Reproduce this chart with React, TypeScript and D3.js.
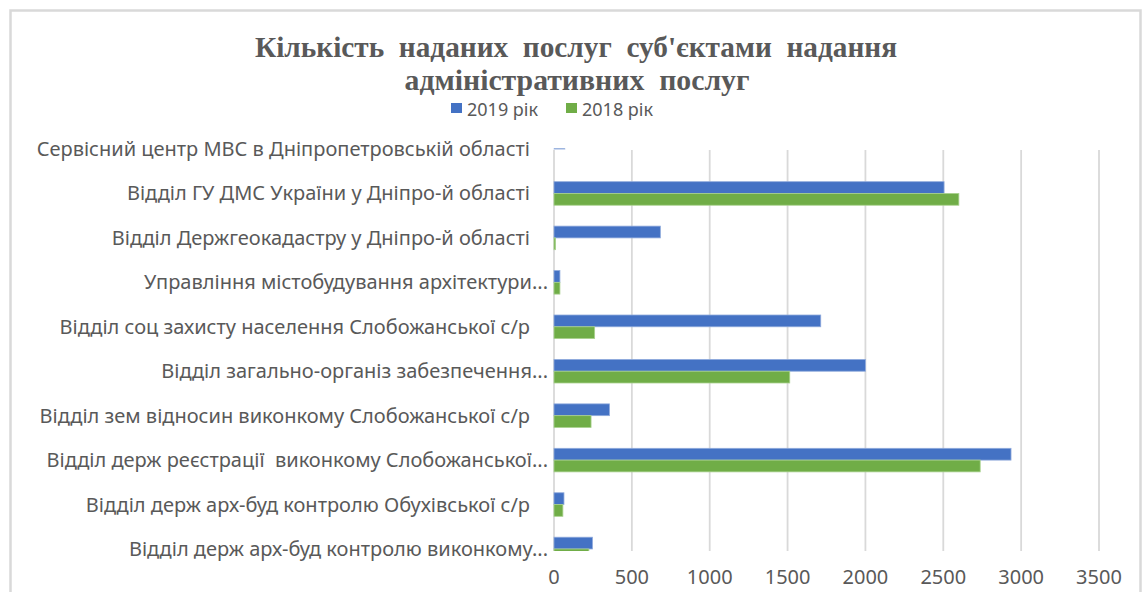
import React from "react";
import * as d3 from "d3";

const categories = [
  "Сервісний центр МВС в Дніпропетровській області",
  "Відділ ГУ ДМС України у Дніпро-й області",
  "Відділ Держгеокадастру у Дніпро-й області",
  "Управління містобудування архітектури...",
  "Відділ соц захисту населення Слобожанської с/р",
  "Відділ загально-організ забезпечення...",
  "Відділ зем відносин виконкому Слобожанської с/р",
  "Відділ держ реєстрації  виконкому Слобожанської...",
  "Відділ держ арх-буд контролю Обухівської с/р",
  "Відділ держ арх-буд контролю виконкому...",
];
const values2019 = [70, 2505, 683, 38, 1713, 2000, 356, 2935, 64, 247];
const values2018 = [0, 2600, 10, 38, 261, 1514, 238, 2737, 57, 224];
const seriesNames = ["2019 рік", "2018 рік"];
const seriesColors = ["#4472C4", "#70AD47"];
const xTicks = [0, 500, 1000, 1500, 2000, 2500, 3000, 3500];
const titleLines = ["Кількість  наданих  послуг  суб'єктами  надання", "адміністративних  послуг"];

const W = 1145;
const H = 592;

export default function App() {
  const x = d3.scaleLinear().domain([0, 3500]).range([554, 1099]);
  const y = d3
    .scaleBand<string>()
    .domain(categories)
    .range([126.8, 571.2])
    .paddingInner(0.47)
    .paddingOuter(0.235);
  const sub = d3.scaleBand<string>().domain(seriesNames).range([0, y.bandwidth()]);
  const series = [values2019, values2018];
  const plotTop = 150;
  const plotBottom = 551;
  const labelFont = "'Noto Sans', sans-serif";
  const fs = 20;
  const pre = { whiteSpace: "pre" as const };

  return (
    <svg
      width={W}
      height={H}
      style={{ position: "absolute", left: 0, top: 0, background: "#fff" }}
    >
      <defs>
        <clipPath id="plotClip">
          <rect x={540} y={148.6} width={580} height={plotBottom - 148.6} />
        </clipPath>
      </defs>
      <rect x={0} y={0} width={W} height={H} fill="#fff" />
      {/* chart frame */}
      <path d={`M10.5,${H + 5} V10.5 H1140.5 V${H + 5}`} fill="none" stroke="#d9d9d9" strokeWidth={2.5} />

      {/* title */}
      <g
        fill="#595959"
        fontFamily="'Liberation Serif', 'Times New Roman', serif"
        fontWeight="bold"
        fontSize={30}
        textAnchor="middle"
      >
        <text x={576} y={57} textLength={642} lengthAdjust="spacingAndGlyphs" xmlSpace="preserve" style={pre}>
          {titleLines[0]}
        </text>
        <text x={577} y={90} textLength={345} lengthAdjust="spacingAndGlyphs" xmlSpace="preserve" style={pre}>
          {titleLines[1]}
        </text>
      </g>

      {/* legend */}
      <g fontFamily={labelFont} fontSize={18} fill="#595959">
        {seriesNames.map((s, i) => {
          const lx = i === 0 ? 451 : 566;
          return (
            <g key={s}>
              <rect x={lx} y={103} width={11} height={10} fill={seriesColors[i]} />
              <text x={lx + 16} y={116}>{s}</text>
            </g>
          );
        })}
      </g>

      {/* gridlines */}
      <g>
        {xTicks.map((t) => (
          <line key={t} x1={x(t)} x2={x(t)} y1={plotTop} y2={plotBottom} stroke="#d9d9d9" strokeWidth={1.8} />
        ))}
      </g>

      {/* bars */}
      <g clipPath="url(#plotClip)">
        {categories.map((c, ci) =>
          series.map((vals, si) => (
            <rect
              key={c + si}
              x={x(0)}
              y={(y(c) as number) + (sub(seriesNames[si]) as number)}
              width={Math.max(0, x(vals[ci]) - x(0))}
              height={sub.bandwidth()}
              fill={seriesColors[si]}
              stroke={si === 0 ? "#8faadc" : "#a9d18e"}
              strokeWidth={0.8}
            />
          ))
        )}
      </g>

      {/* category labels */}
      <g fontFamily={labelFont} fontSize={fs} fill="#595959" textAnchor="end">
        {categories.map((c) => (
          <text
            key={c}
            x={c.endsWith("...") ? 548 : 530}
            y={(y(c) as number) + y.bandwidth() / 2}
            dy="0.35em"
            xmlSpace="preserve"
            style={pre}
          >
            {c}
          </text>
        ))}
      </g>

      {/* x tick labels */}
      <g fontFamily={labelFont} fontSize={fs} fill="#595959" textAnchor="middle">
        {xTicks.map((t) => (
          <text key={t} x={x(t)} y={577} dy="0.35em">
            {t}
          </text>
        ))}
      </g>
    </svg>
  );
}
